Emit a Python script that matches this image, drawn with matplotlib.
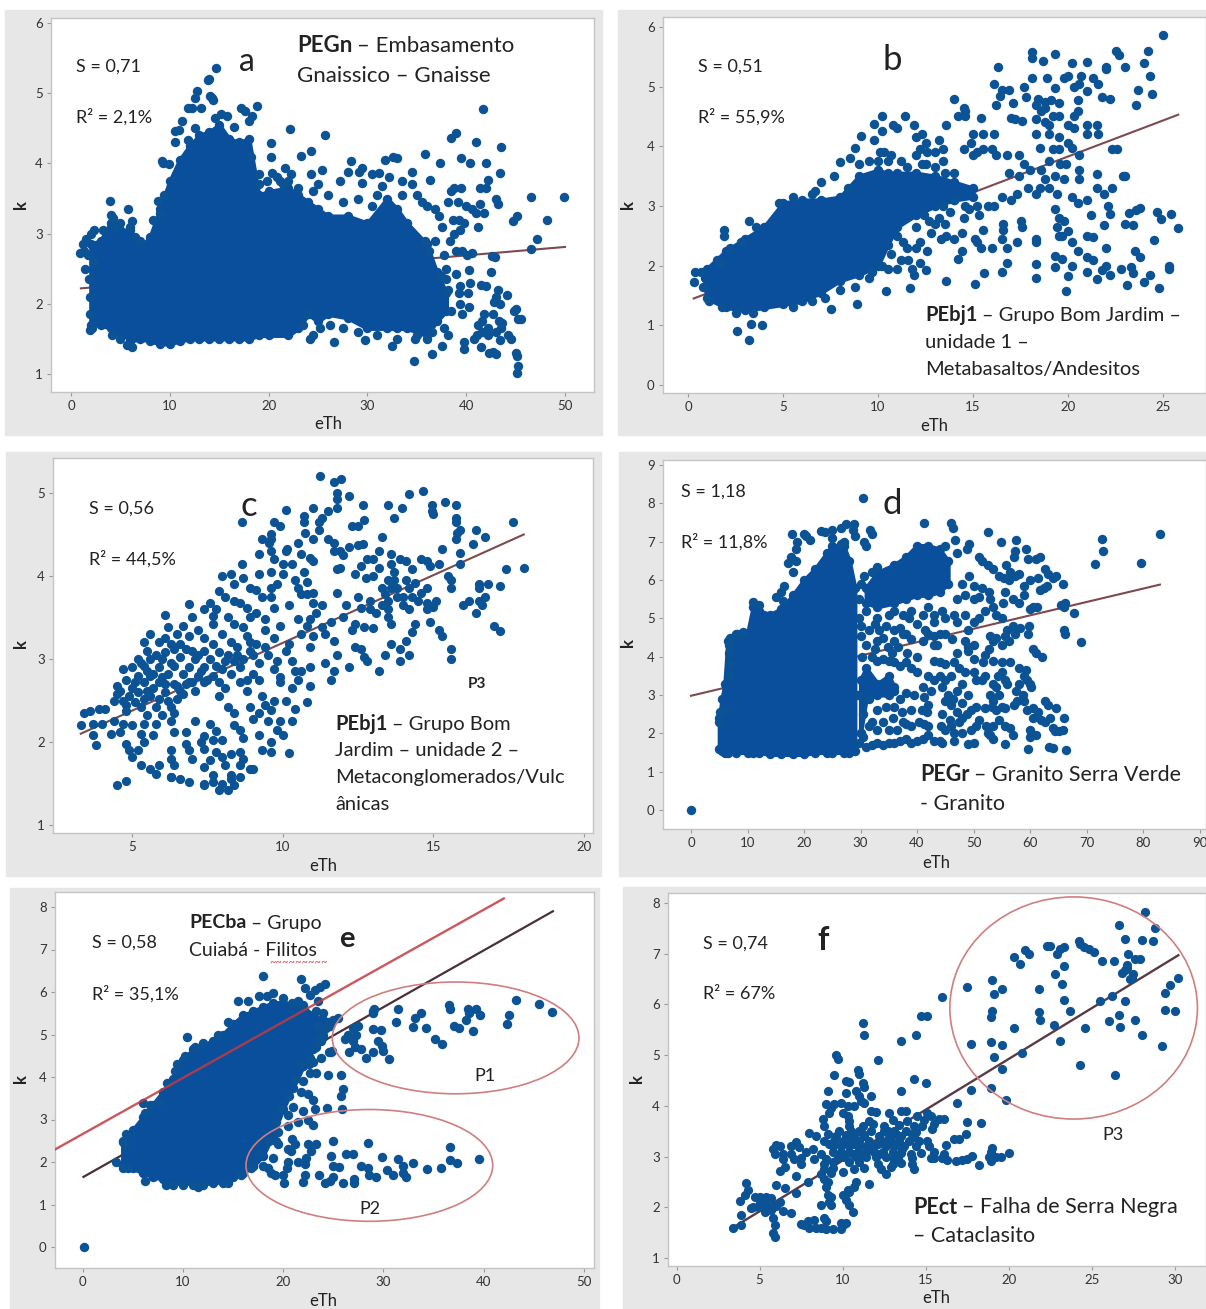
import matplotlib
matplotlib.use("Agg")
import matplotlib.pyplot as plt
from matplotlib.patches import Ellipse, Rectangle

W, H = 1206, 1309
plt.rcParams["font.family"] = ["Lato", "DejaVu Sans"]

BLUE = "#0b5394"
FILL = "#0a4f9c"
GREY = "#e7e7e7"
TXT = "#222222"
LINE = "#7d4a4e"

# regression lines (eTh, k)
a_line = ([1, 50], [2.22, 2.81])
b_line = ([0.3, 25.8], [1.45, 4.53])
c_line = ([3.3, 18.0], [2.1, 4.5])
d_line = ([0, 83], [2.98, 5.88])
e_line = ([0.1, 46.9], [1.65, 7.9])
e_red_line = ([-2.7, 42], [2.3, 8.2])
f_line = ([3.4, 30.2], [1.6, 6.97])

# dense parts: eTh, lower k, upper k
a_dense_x = [2, 3, 4, 5, 6, 7, 8, 9, 10, 11, 12, 13, 14, 15, 16, 17, 18, 19, 20, 22, 23, 24, 25, 26, 28, 30, 32, 33, 34, 36, 37, 38]
a_dense_lo = [1.7, 1.7, 1.65, 1.6, 1.47, 1.5, 1.47, 1.43, 1.43, 1.47, 1.5, 1.5, 1.5, 1.5, 1.5, 1.5, 1.5, 1.55, 1.55, 1.55, 1.65, 1.85, 1.75, 1.85, 1.8, 1.65, 1.65, 1.65, 1.65, 1.55, 1.75, 1.9]
a_dense_hi = [2.85, 2.9, 3.15, 3.05, 3.05, 2.8, 2.95, 3.35, 3.75, 4.05, 4.25, 4.4, 4.45, 4.55, 4.35, 4.3, 4.35, 3.55, 3.6, 3.65, 3.55, 3.45, 3.35, 3.25, 3.25, 3.15, 3.5, 3.35, 3.15, 2.85, 2.45, 2.15]

b_dense_x = [0.9, 1, 2, 3, 4, 5, 6, 7, 8, 9, 10, 10.5, 11, 12, 13, 14, 15]
b_dense_lo = [1.65, 1.45, 1.3, 1.25, 1.3, 1.35, 1.4, 1.55, 1.75, 1.85, 2.0, 2.35, 2.65, 2.85, 3.0, 3.1, 3.15]
b_dense_hi = [1.8, 1.95, 2.25, 2.45, 2.65, 3.05, 3.1, 3.1, 3.15, 3.5, 3.6, 3.55, 3.55, 3.55, 3.5, 3.4, 3.3]

d_dense_x = [5, 5.5, 6, 6.5, 8, 10, 11, 12, 14, 16, 18, 20, 22, 24, 25, 27, 28, 29]
d_dense_lo = [1.6, 1.55, 1.5, 1.5, 1.5, 1.5, 1.5, 1.5, 1.45, 1.45, 1.45, 1.45, 1.5, 1.5, 1.5, 1.5, 1.5, 1.55]
d_dense_hi = [2.4, 2.9, 3.3, 4.4, 4.6, 4.6, 5.3, 5.2, 5.1, 5.25, 5.6, 6.0, 6.3, 6.7, 6.9, 6.9, 6.5, 5.8]
d_arc_x = [31, 33, 36, 38, 40, 42, 44, 45.5]
d_arc_lo = [5.4, 5.3, 5.4, 5.5, 5.6, 5.6, 5.7, 5.9]
d_arc_hi = [5.8, 6.2, 6.4, 6.6, 6.9, 6.9, 6.8, 6.5]
d_mid_x = [30, 31, 33, 35, 36]
d_mid_lo = [2.0, 2.9, 3.0, 3.0, 3.1]
d_mid_hi = [3.4, 3.7, 3.3, 3.5, 3.2]

e_dense_x = [4, 5, 6, 7, 8, 9, 10, 11, 12, 13, 14, 15, 16, 17, 18, 19, 20, 21, 22, 23, 24]
e_dense_lo = [1.9, 1.85, 1.75, 1.65, 1.6, 1.5, 1.5, 1.5, 1.5, 1.5, 1.55, 1.65, 1.75, 1.9, 2.15, 2.65, 3.25, 3.75, 4.25, 4.65, 4.95]
e_dense_hi = [2.5, 2.75, 3.05, 3.35, 3.65, 3.95, 4.4, 4.65, 4.75, 4.85, 5.0, 5.25, 5.45, 5.55, 5.65, 5.75, 5.75, 5.7, 5.65, 5.45, 5.35]

# single points (eTh, k)
a_pts = [(14.7,5.36),(13.9,5.19),(14.0,5.2),(12.8,5.03),(12.6,4.93),(14.1,4.96),(14.3,4.93),(14.4,4.9),(13.2,4.79),(12.2,4.79),(11.8,4.79),(11.2,4.6),
 (10.5,4.46),(10.9,4.47),(10.5,4.31),(14.6,4.64),(15.2,4.7),(15.8,4.68),(17.2,4.79),(17.6,4.75),(18.8,4.82),(18.3,4.67),(18,4.6),(16.5,4.52),(12.6,4.5),
 (11.8,4.33),(9.2,4.04),(9.3,4.0),(9.9,3.99),(22.2,4.49),(25.7,4.4),(20.2,4.29),(20.2,4.09),(18.2,4.09),(23.3,4.1),(24.3,4.18),(21.7,3.93),(25.4,3.9),
 (28.3,4.04),(29.5,3.93),(29.2,3.88),(31.8,4.05),(32.6,4.09),(33,4.08),(34.5,3.88),(35.8,4.14),(37.3,4.01),(36.3,3.77),(39.0,4.43),(38.5,4.36),(41.7,4.77),
 (41,4.3),(39.5,4.08),(40.4,4.01),(42,4.0),(43.5,4.23),(43.4,3.86),(42.2,3.77),(46.6,3.52),(49.9,3.52),(48.2,3.2),(45.1,3.25),(44.7,3.18),(47.2,2.92),(46.6,2.78),
 (43,3.5),(43.2,3.42),(41.4,3.65),(42,3.65),(41.4,3.42),(41.8,3.3),(41,3.3),(40.6,3.35),(40,3.4),(39.2,3.45),(38.8,3.65),(38.5,3.6),(39.5,3.65),(38.2,3.45),
 (38.7,3.2),(39.3,3.2),(39.8,3.15),(41.2,3.1),(38.8,3.0),(39.4,3.05),(38.4,2.9),(39,2.75),(39.6,2.75),(40.1,2.7),(40.6,2.72),(42.6,2.68),(42.9,2.66),(42.5,2.45),
 (40.3,2.48),(39,2.42),(39.4,2.25),(40.4,2.3),(41.5,2.27),(42,2.25),(39.3,2.15),(40.2,2.15),(38.2,2.2),(43.2,2.2),(44.1,2.12),(43,2.1),(42.8,2.02),(43.4,2.0),
 (39.4,2.0),(40.3,1.95),(38.5,1.9),(39.6,1.85),(41.8,1.85),(42.7,1.85),(43.3,1.75),(41.2,1.7),(41.6,1.75),(42.2,1.65),(43.6,1.72),(44.8,1.9),(45,1.92),(45.2,1.78),
 (45.5,1.78),(43,1.6),(43.5,1.65),(41.1,1.55),(41.6,1.6),(42.2,1.55),(40.8,1.5),(44.2,1.55),(44.5,1.5),(43.4,1.48),(39.8,1.45),(41.5,1.38),(42.3,1.3),(42.7,1.32),
 (43,1.28),(39.8,1.35),(45,1.3),(45.1,1.25),(45.2,1.12),(45.1,1.01),(34.7,1.18),(36.5,1.28),(38.2,1.55),(37.5,1.4),(36,1.5),(34.8,1.5),(32.5,1.4),(26.6,1.45),(29.8,1.48),
 (24.2,1.5),(24.5,1.55),(6.2,1.38),(5.7,1.42),(4.2,1.55),(5,1.5),(1.9,1.62),(2.1,1.65),(1.3,2.75),(0.9,2.72),(1.2,2.85),(1.5,2.92),(2.0,3.0),(2.3,3.05),(3.2,3.05),
 (3.9,3.47),(4.0,3.27),(4.3,3.22),(5.8,3.35),(6.2,3.18),(6.0,3.1),(5.0,3.15),(4.6,3.1),(6.5,2.95),(7,2.9),(8.8,3.47),(9.4,3.55),(9,3.3),(8.3,3.2),(19,3.85),(20.3,3.87),
 (21.2,3.75),(21.5,3.7),(22.3,3.85),(23,3.65),(24.3,3.85),(25,3.7),(26,3.55),(27.2,3.75),(28,3.88),(29.5,3.72),(30.5,3.85),(31.2,3.87),(31.5,3.68),(32.2,3.8),
 (33.5,3.75),(34.5,3.7),(35,3.55),(35.5,3.45),(36,3.4),(36.8,3.35),(37.2,3.25),(37.6,3.1),(36.8,2.9),(37.8,2.7),(38,2.5),(35.8,2.9),(36.2,2.75),(37.4,2.4),(38,2.35),
 (1.4,2.5),(1.8,2.35),(1.9,2.1),(1.9,1.85),(2.3,2.6),(1.7,2.7),(24.5,3.6),(27.5,3.45),(29,3.5),(30.5,3.4),(31,3.55),(33.5,3.55),(19,3.7),(19.8,3.75),(20.8,3.8),(22,3.75),
 (24,1.85),(23.5,1.7),(25.2,1.65),(26.2,1.7),(27.5,1.65),(29,1.6),(31,1.55),(33,1.5),(35,1.55),(36.5,1.6),(37.8,1.65)]

b_pts = [(25,5.87),(22.5,5.6),(22.7,5.53),(24.2,5.6),(24,5.4),(24.3,5.18),(23,5.33),(22,5.3),(22,5.33),(21,5.42),(20.2,5.4),(19.3,5.55),(18.1,5.58),(18.1,5.48),
 (18.7,5.43),(16.3,5.33),(16.1,5.05),(16.5,4.95),(16.9,4.95),(17.7,5.0),(18.1,5.15),(18.9,5.15),(19.3,4.97),(19.8,5.15),(20,5.18),(20.3,5.0),(20.6,5.05),(20.7,5.18),
 (21.3,5.15),(21.6,5.05),(21,4.93),(23.7,4.95),(24.4,4.88),(23.6,4.7),(21.8,4.82),(22.2,4.8),(20.5,4.77),(17.8,4.82),(18.4,4.8),(18.3,4.7),(18.8,4.75),(19.1,4.78),
 (19.5,4.72),(18.8,4.65),(18.6,4.6),(20.5,4.6),(16.2,4.7),(16.4,4.85),(14.0,4.8),(14.5,4.65),(14.6,4.6),(14.2,4.5),(14.6,4.5),(15.4,4.47),(17.1,4.72),(17.0,4.47),
 (17.2,4.45),(17.6,4.43),(18.3,4.45),(18.8,4.4),(19.2,4.5),(19.5,4.5),(20.3,4.5),(20,4.35),(21.0,4.35),(21.5,4.35),(21.0,4.2),(20.3,4.3),(21.6,4.2),(19,4.35),(18.3,4.2),
 (19.0,4.2),(19.5,4.15),(20,4.05),(20.2,3.98),(18.5,3.97),(19.2,3.95),(19.5,3.95),(22.3,3.95),(22.6,3.95),(20.6,3.85),(19.0,3.75),(19.6,3.7),(19.9,3.7),(20.6,3.6),(20.6,3.45),
 (21.5,3.53),(22.9,3.5),(23,3.5),(19.3,3.5),(19.8,3.45),(18.8,3.45),(18.5,3.3),(19,3.3),(19.4,3.2),(18.3,3.2),(17.9,3.3),(21.5,3.3),(22.3,3.3),(21.9,3.2),(20.2,3.15),(20.5,3.05),
 (22.1,3.0),(21,3.1),(21.2,2.85),(22.2,2.87),(23.2,2.88),(23.6,2.93),(23.8,2.96),(24.7,2.9),(25.4,2.87),(24.9,2.78),(25.8,2.63),(23,2.7),(23.4,2.68),(21.9,2.68),(19.3,2.95),
 (19.5,2.8),(19.4,2.65),(19.8,2.75),(19.5,2.5),(20,2.58),(20.2,2.4),(21,2.5),(21.3,2.48),(19.7,2.5),(24.5,2.43),(22,2.3),(23.5,2.25),(23.8,2.15),(20.5,2.25),(21,2.15),(21.3,2.1),
 (19.3,2.17),(19.7,2.12),(19.3,1.97),(20.2,2.0),(18.3,2.02),(22,2.0),(21.8,1.93),(22.8,1.95),(23.3,1.98),(23.4,1.87),(24.3,1.85),(25.3,2.0),(25.3,1.95),(21,1.9),(21.5,1.78),(22.2,1.85),
 (20,1.82),(18.3,1.8),(23.1,1.67),(24,1.72),(24.8,1.63),(19.9,1.58),(16.5,1.9),(15.6,1.88),(15.1,1.7),(13.6,1.75),(11.7,1.63),(10.4,1.57),(8.9,1.35),(7.5,1.27),(3.9,1.0),(3.3,1.02),
 (2.6,0.9),(3.2,0.76),(18.3,2.4),(18.3,2.45),(17.5,2.75),(17.6,2.65),(16.6,2.6),(16.6,2.7),(16.5,2.45),(16.8,2.3),(16.8,2.05),(17.3,2.4),(16,2.3),(15.1,2.45),(15.2,2.4),(15.4,2.3),
 (14.4,2.25),(14.2,2.12),(14,2.45),(13.3,2.45),(13.6,2.5),(12.6,2.25),(12,2.3),(11.5,2.3),(12.2,2.05),(11.6,2.1),(11.2,2.1),(11.8,1.95),(12.5,1.92),(11.9,1.85),(13,2.7),(13.5,2.7),
 (14.4,2.55),(15.3,2.85),(15.5,2.6),(14.8,2.95),(15.2,3.0),(15.8,3.0),(16.1,3.0),(16.5,3.15),(17,3.1),(17.3,3.2),(14,3.1),(13.4,3.0),(13.8,2.9),(12.4,2.85),(12,2.65),(12.2,2.4),
 (15,4.2),(15.5,4.2),(15.5,3.95),(15.2,3.9),(16,3.95),(16.2,3.85),(15,3.85),(14.5,3.95),(16.1,4.2),(16.8,3.85),(17.4,3.85),(17.7,3.7),(16.9,3.55),(17.4,3.5),(18,3.6),(18.6,3.6),
 (13.6,4.35),(14.9,4.05),(13.2,4.1),(13.4,3.95),(12.5,4.05),(12.0,4.15),(12.3,4.2),(11.9,4.35),(11.4,4.5),(10.2,4.5),(9.8,4.38),(10.8,4.35),(11,4.3),(10.2,4.25),(9.1,4.18),(8.8,3.97),
 (9.8,4.1),(10.1,3.9),(10.3,3.9),(10.7,3.85),(10,3.75),(8,3.73),(8.5,3.8),(9,3.7),(7.7,3.5),(7,3.4),(8.4,3.3),(6.5,3.2),(6.7,3.25),(5.5,3.15),(4.8,3.05),(12,3.85),(12.2,3.95),(12.6,3.9),
 (13,3.9),(13.4,3.75),(11.2,3.75),(12.3,3.7),(13.5,3.55),(14,3.55),(3.2,2.75),(3.6,2.65),(2.8,2.4),(2.2,2.3),(1.9,2.6),(1.9,2.5),(1.5,2.1),(1.7,2.05),(0.35,1.9),(0.3,1.72),(0.7,1.9),
 (11.5,3.65),(12.5,3.7),(13,3.65),(9.5,3.75),(10.5,3.75),(11,2.5),(10.7,2.2),(10.2,2.0),(9.5,1.8),(8.8,1.65),(8,1.6),(7.2,1.45),(6.5,1.4),(5.5,1.3),(11.3,2.4),(12.8,2.55),(13.2,2.8),
 (12.7,2.75),(14.5,2.8),(14.6,3.0),(9.7,1.9),(10.5,1.95),(11,1.95),(0.8,1.65),(1.1,1.4),(1.8,1.3),(2.5,1.2),(3.4,1.2)]

c_pts = [(11.25,5.2),(11.7,5.13),(11.95,5.17),(11.8,5.0),(11.8,4.93),(12.2,4.96),(14.2,4.99),(14.65,5.03),(15.4,4.89),(11.8,4.82),(13.5,4.85),(12.65,4.85),(15.75,4.85),(14.95,4.85),
 (14.95,4.78),(15,4.75),(10.1,4.8),(11,4.82),(11.5,4.78),(11.3,4.7),(11.2,4.65),(8.65,4.65),(9.7,4.65),(9.9,4.6),(10.7,4.72),(10.7,4.65),(13.95,4.82),(13.7,4.7),(12.3,4.6),(12.5,4.6),
 (12.7,4.67),(15.75,4.7),(15.75,4.65),(17.65,4.65),(11.2,4.55),(10.75,4.52),(11.5,4.45),(11.7,4.4),(9.6,4.45),(9.3,4.45),(9.6,4.5),(9.55,4.4),(10.5,4.4),(11,4.45),(13.3,4.47),(15.8,4.52),
 (15.9,4.55),(15.75,4.45),(16.4,4.55),(16.7,4.47),(16.3,4.38),(12.2,4.35),(12.5,4.37),(12.65,4.38),(10.1,4.3),(10.15,4.33),(9.2,4.27),(9.6,4.3),(10.6,4.27),(10.9,4.22),(11.7,4.3),(12,4.25),
 (11.9,4.3),(13.2,4.3),(13.6,4.27),(15.3,4.33),(15.9,4.28),(8.65,4.15),(9.7,4.2),(10,4.15),(10.3,4.15),(10.7,4.05),(11.0,4.18),(11.8,4.08),(11.9,4.1),(12.8,4.2),(13,4.2),(12.6,4.12),
 (13.2,4.1),(13.6,4.15),(13.9,4.2),(14.1,4.18),(14.6,4.2),(14.8,4.18),(14.9,4.12),(15.2,4.15),(15.9,4.15),(17.4,4.08),(18,4.1),(14.3,4.08),(8.0,4.0),(8.3,4.03),(8.7,3.97),(9.2,4.02),
 (9.6,4.05),(10,4.02),(10.4,3.95),(10.8,3.93),(12.4,4.03),(12.75,3.98),(13,4),(13.5,3.95),(13.7,4.05),(14.1,3.95),(14.4,3.92),(15.5,4.0),(15.6,3.95),(16.5,3.9),(16.8,3.9),(17.2,3.88),
 (8.4,3.9),(8.9,3.85),(9.1,3.83),(9.6,3.85),(9.8,3.9),(10.5,3.85),(13.3,3.85),(13.6,3.85),(13.8,3.85),(14.2,3.85),(14.8,3.85),(15.6,3.85),(16.5,3.85),(7.9,3.82),(8.1,3.75),(8.4,3.7),
 (8.6,3.68),(9.3,3.75),(9.6,3.75),(10.6,3.78),(10.8,3.78),(11.0,3.8),(11.8,3.8),(12.5,3.75),(12.9,3.7),(13.5,3.7),(13.8,3.75),(14,3.75),(14.5,3.7),(14.8,3.68),(15.1,3.7),(16,3.65),(16.2,3.7),
 (16.5,3.7),(16.7,3.75),(7.6,3.68),(7.8,3.6),(8.8,3.62),(9.1,3.55),(9.7,3.62),(10.2,3.65),(11,3.68),(11.3,3.65),(12.1,3.65),(12.6,3.62),(12.9,3.6),(13.1,3.55),(13.5,3.6),(14.2,3.6),(14.8,3.6),
 (15,3.63),(16.4,3.55),(16.6,3.65),(6.9,3.66),(7.4,3.6),(6.1,3.53),(7,3.5),(7.7,3.52),(8.2,3.5),(8.9,3.5),(9.4,3.48),(10.5,3.48),(10.9,3.48),(11.1,3.55),(11.6,3.45),(12,3.5),(12.4,3.42),
 (13.5,3.5),(13.6,3.42),(14.4,3.42),(14.9,3.45),(15.2,3.35),(17,3.4),(17.2,3.34),(6.2,3.38),(6.7,3.4),(7.2,3.35),(7.7,3.42),(8.4,3.42),(8.7,3.38),(9.4,3.35),(9.9,3.4),(10.8,3.4),(11.3,3.38),
 (12.3,3.35),(12.7,3.38),(13,3.37),(14.3,3.32),(15.3,3.28),(5.6,3.3),(6.1,3.25),(6.5,3.3),(6.9,3.28),(7.4,3.25),(8.0,3.3),(8.8,3.28),(9.7,3.25),(10.6,3.3),(11,3.28),(11.4,3.3),(11.7,3.22),
 (14.1,3.22),(5.4,3.2),(5.9,3.2),(6.6,3.18),(7.7,3.18),(8.3,3.2),(9.1,3.18),(9.4,3.15),(10.2,3.18),(10.9,3.15),(11.8,3.05),(12.4,3.15),(12.6,3.12),(13.6,3.18),(15.6,3.12),(5.5,3.1),(6.1,3.08),
 (6.4,3.12),(7,3.1),(7.4,3.1),(7.9,3.08),(8.5,3.05),(8.9,3.1),(9.5,3.05),(10.1,3.1),(12.7,3.03),(13.4,3.05),(13.9,3.12),(14.2,3.05),(15.6,3.0),(5.2,3.0),(5.6,3.0),(6.0,3.0),(6.6,3.02),
 (7.1,3.0),(7.6,3.0),(8.1,2.98),(8.7,3.0),(9.2,2.95),(9.8,2.98),(10.3,2.98),(11.4,2.95),(12.8,2.98),(13.9,2.98),(5.0,2.9),(5.4,2.92),(5.9,2.9),(6.4,2.92),(6.9,2.9),(7.4,2.9),(8,2.88),(8.6,2.9),
 (9.7,2.88),(10.4,2.85),(10.9,2.9),(4.7,2.88),(5.2,2.8),(5.7,2.82),(6.2,2.82),(6.7,2.82),(7.2,2.8),(7.7,2.8),(8.3,2.82),(9,2.82),(9.9,2.78),(10.6,2.85),(11.7,2.85),(12.2,2.9),(13.2,2.85),
 (4.8,2.75),(5.4,2.72),(5.9,2.72),(6.4,2.7),(6.9,2.72),(7.4,2.72),(8.6,2.72),(9.2,2.75),(9.9,2.72),(10.5,2.75),(10.9,2.67),(11.6,2.75),(4.5,2.68),(5.0,2.65),(5.5,2.62),(6.1,2.6),(6.6,2.62),
 (7.1,2.62),(8.1,2.65),(8.8,2.62),(10.3,2.65),(4.5,2.58),(4.9,2.55),(5.4,2.52),(5.9,2.52),(6.5,2.52),(7.9,2.55),(9.3,2.55),(9.7,2.5),(10.1,2.5),(10.8,2.48),(4.4,2.5),(4.8,2.45),(5.3,2.42),
 (5.8,2.42),(6.3,2.42),(8.2,2.42),(8.9,2.42),(9.4,2.45),(10.4,2.4),(4.8,2.37),(5.5,2.32),(6.0,2.32),(6.4,2.35),(8.4,2.35),(9.2,2.35),(9.6,2.38),(3.4,2.35),(3.6,2.37),(3.9,2.4),(4.1,2.4),
 (5.4,2.22),(5.8,2.22),(6.3,2.25),(7.1,2.25),(7.6,2.22),(8.4,2.2),(9.0,2.28),(9.5,2.25),(9.9,2.25),(10.3,2.25),(3.3,2.2),(3.7,2.22),(4.0,2.22),(4.4,2.25),(4.7,2.22),(5.0,2.2),(6.4,2.12),(6.8,2.12),
 (7.8,2.13),(8.6,2.15),(9.8,2.15),(10.0,2.08),(4.3,2.1),(4.6,2.12),(5.3,2.1),(5.7,2.08),(7.4,2.07),(7.7,2.02),(8.7,2.05),(9.2,2.08),(9.6,2.0),(3.7,2.08),(4.8,1.98),(5.4,2.0),(6.8,1.98),
 (7.3,2.0),(8.0,2.03),(3.8,1.96),(4.9,1.9),(5.2,1.9),(6.3,1.9),(6.9,1.9),(7.4,1.92),(7.8,1.88),(8.3,1.85),(8.6,1.88),(9.3,1.9),(9.6,1.88),(10.2,1.87),(5.0,1.82),(6.3,1.8),(7,1.8),(7.6,1.78),
 (8.0,1.82),(8.7,1.8),(5.3,1.72),(5.6,1.68),(5.9,1.72),(6.4,1.72),(7.4,1.7),(8.1,1.72),(8.6,1.72),(8.9,1.68),(9.0,1.67),(5.8,1.62),(6.3,1.58),(7.7,1.6),(8.3,1.6),(8.6,1.58),(4.5,1.48),(4.8,1.53),
 (6.3,1.58),(6.6,1.55),(6.9,1.52),(7.4,1.5),(7.7,1.52),(8.0,1.5),(8.3,1.55),(7.4,1.48),(7.9,1.42),(8.2,1.42),(8.4,1.48),
 (4.6,2.62),(5.1,2.72),(5.6,2.8),(5.1,2.48),(5.6,2.55),(6.1,2.7),(6.3,2.95),(6.8,2.7),(7.3,2.85),(7.8,2.92),(8.2,3.05),(8.5,3.15),(8.9,3.2),(9.0,3.05),(13.4,3.78),(13.7,3.95),(14,3.65),(14.3,3.75),(14.6,3.8),(13.3,3.65),
 (5.3,2.95),(5.8,3.05),(6.3,3.18),(6.8,3.12),(7.2,3.05),(5.7,2.65),(6.2,2.5),(6.7,2.58),(7.0,2.72),(7.5,2.75),(4.7,2.5),(5.2,2.6),(5.5,2.85),(6.0,2.78),(6.5,2.68),(8.4,2.98),(8.8,2.75),(7.9,2.72)]

d_pts = [(30.5,8.15),(83,7.2),(72.7,7.08),(73,6.75),(71.5,6.42),(79.7,6.45),(41.2,7.5),(46,7.5),(46.3,7.35),(52.5,7.25),(54.8,7.0),(57.6,7.05),(59.3,6.8),(46.8,7.05),(49.2,6.95),(48.9,6.8),
 (45,6.9),(47,6.7),(51,6.6),(51.5,6.5),(52.5,6.4),(53.5,6.3),(55.8,6.4),(56.5,6.2),(57.3,6.1),(58,6.15),(56.3,6.0),(55.4,6.05),(54.5,6.1),(57.3,6.75),(57.2,6.6),(59.7,6.55),(61,6.55),(61.8,6.6),
 (62.7,6.3),(63.2,6.15),(64,6.05),(64.6,6.1),(65.8,5.9),(63,5.85),(61.5,6.05),(60,6.0),(59,5.85),(61.7,5.75),(62.5,5.8),(66.2,5.4),(66,5.3),(65.5,5.35),(67.8,5.15),(60.5,5.3),(61.2,5.3),(60,5.25),
 (66,4.7),(66.2,4.6),(69,4.38),(62.2,4.0),(60.6,4.2),(61,4.1),(59.8,4.8),(59.6,4.6),(58.2,4.75),(57,4.8),(56,4.7),(55.5,4.55),(57.4,4.6),(56.3,4.4),(55,4.3),(53,4.55),(53.5,4.4),(52.7,4.2),(52,4.05),
 (54,4.5),(50,4.3),(49,4.25),(48.5,4.4),(49,4.15),(46.2,4.45),(44,3.85),(43,3.9),(45,3.8),(46.5,3.85),(50,3.95),(51.6,3.85),(53.5,3.9),(55,3.85),(56.5,3.85),(58,3.7),(59.3,3.65),(59.5,3.4),(59,3.5),
 (60,3.3),(60.2,3.2),(58,3.3),(57.5,3.1),(58.7,3.0),(57.7,2.85),(57.2,2.75),(59,2.85),(59.5,2.6),(60.5,2.65),(61.5,2.55),(62.7,2.85),(63.2,2.75),(64.6,2.65),(60.5,2.4),(62,2.35),(62.6,2.3),(63.5,2.4),
 (66,2.4),(64,2.15),(64.5,2.05),(65.2,2.05),(65.8,2.1),(60,2.1),(60,1.9),(61,1.95),(59.7,1.6),(63.3,1.65),(64,1.62),(66.3,1.57),(55.6,1.72),(53.5,1.85),(53,1.95),(52.5,2.0),(50,1.75),(49,1.72),(48,2.0),
 (46.5,1.8),(43,1.8),(41,1.85),(48,2.8),(48.8,2.5),(49.5,2.6),(50.5,2.7),(51,2.35),(52,2.65),(53.3,2.7),(54,2.6),(54.5,2.35),(55,2.7),(55.5,2.65),(53,3.0),(53.5,3.3),(54,3.2),(54.3,3.5),(55,3.6),(55.5,3.4),
 (56,3.3),(54.5,3.0),(53.5,2.85),(52,3.5),(51.5,3.4),(50.5,3.4),(50,3.6),(49,3.0),(47,3.1),(46.4,2.9),(45.5,3.0),(44.5,3.2),(44,3.5),(45,2.85),(46,2.75),(47,2.55),(47.5,2.3),(44.5,2.5),(44.2,2.2),
 (45,2.1),(45.8,2.35),(42,2.75),(42.5,3.1),(43,3.4),(41,3.2),(41.2,2.95),(41.8,2.55),(40.8,2.6),(40.3,2.3),(41.2,2.25),(42,2.2),(39,2.2),(39,2.6),(39.5,3.0),(38,3.05),(37.3,2.55),(36,2.7),(35.8,2.4),
 (38,2.25),(40,3.6),(39,3.7),(38,3.85),(40,4.0),(38.2,4.1),(36.7,4.25),(35.5,4.1),(34.8,4.25),(33,4.4),(34,4.5),(32.5,4.2),(31.5,4.7),(33.3,4.7),(36,4.7),(37,4.75),(38,4.6),(39,4.45),(41,4.4),(42,4.6),(43,4.55),
 (44,4.6),(43.5,4.3),(45,5.0),(46.5,5.1),(47,4.9),(48.5,5.1),(49,4.7),(50,4.9),(51,5.0),(52,5.2),(53.5,5.3),(54,5.1),(55,5.0),(57,5.5),(58,5.4),(59,5.6),(55.5,5.7),(55.3,5.4),(53,5.5),(51,5.55),(50,5.5),(48.5,5.6),
 (47,5.5),(49.2,6.1),(48,5.9),(50,5.85),(51.5,5.8),(52.7,5.7),(42,5.3),(43,5.1),(44.5,5.2),(41,5.1),(39,5.2),(37.5,5.1),(36,5.2),(35,5.1),(33,5.0),(31,5.2),(17.8,7.2),(18.8,7.0),(20,7.2),(20.3,7.15),(21,7.05),
 (23,7.28),(23.7,7.25),(25,7.3),(25,7.1),(26.5,7.35),(27.4,7.45),(28.9,7.45),(28.7,7.3),(29,7.15),(31.6,7.3),(32,7.2),(30.7,7.0),(31,6.9),(27,7.0),(26.5,6.95),(18.6,6.8),(17.7,6.6),(17.2,6.45),(18.5,6.5),(18,6.2),
 (16.5,5.85),(16,5.7),(15,5.55),(16.2,5.45),(11,5.42),(12,5.35),(6.9,4.5),(6.8,4.3),(8.2,4.6),(9.2,4.65),(6.8,4.1),(6.9,3.8),(6.7,3.5),(5.2,2.55),(5,2.3),(6,2.6),(33,6.35),(32,6.2),(30.7,6.1),(30,5.9),(29.8,5.5),(0,0.0),
 (30,2.0),(31,1.65),(32,1.7),(33,1.75),(34,1.7),(35,1.75),(36,1.75),(37,1.8),(38,1.85),(39,1.75),(40,1.8),(42,1.95),(44,1.8),(30.5,2.5),(32,2.3),(33,2.6),(34,2.3),(35,2.1),(36.5,2.1),(37.5,2.3),(31.5,2.9),
 (33,2.1),(34.5,2.7),(37,2.9),(31,4.3),(30,4.55),(30.3,4.0),(32,4.0),(33,3.9),(34,3.95),(35,3.9),(36,3.85),(37,3.75),(37.5,4.6),(36,4.4),(34.5,4.8),(32.5,4.85),(38.5,5.0),(40,4.85),(41.5,4.7),(43,4.9),
 (43,4.3),(45,4.6),(47,4.1),(47.5,3.7),(48.5,3.6),(46,3.5),(45,3.4),(42,3.5),(48,3.3),(48,2.4),(49.5,2.1),(50.5,2.2),(52.2,2.2),(53.5,2.2),(55.5,2.2),(56.5,2.15),(57,1.95),(46,2.2),(46.5,2.0),(44.5,1.75),
 (29.8,5.0),(30,4.8),(29.8,1.75),(30.5,1.9),(31.5,2.2),(29.6,3.0)]

e_pts = [(18,6.38),(21.8,6.3),(22.2,6.1),(24.2,6.2),(23.7,6.12),(23.2,6.05),(22.7,5.92),(19,5.98),(18.4,5.9),(17.6,5.9),(20,5.85),(15.5,5.8),(16.5,5.8),(21.5,5.8),(20.9,5.75),(22,5.7),(23.5,5.8),(23.3,5.55),
 (25,5.35),(25.5,5.38),(23.5,5.2),(24,5.0),(23.5,4.9),(24.8,4.6),(24.9,4.62),(23.8,4.45),(23,4.35),(22.6,4.3),(24.5,4.05),(25.8,4.05),(22.7,4.1),(23.3,4.1),(22,3.9),(21.8,3.65),(22.5,3.6),(25.8,3.55),(26,3.72),
 (23,3.45),(24.4,3.28),(23.2,3.25),(25.9,3.25),(22,3.2),(21,3.3),(20.5,3.1),(22.5,3.0),(23,2.88),(21.5,2.95),(20.5,2.85),(19.5,2.7),(19.3,2.5),(19.5,2.42),(20.5,2.3),(20.9,2.55),(21.2,2.42),(22.5,2.42),(23.3,2.42),
 (25,2.5),(28.5,2.45),(20.8,2.25),(22.8,2.25),(22.3,2.1),(24.8,2.15),(26.3,2.2),(27,2.2),(19,2.1),(20.5,2.0),(21.5,2.0),(22.2,1.95),(25,1.9),(25.6,1.88),(27.8,1.9),(28.5,1.85),(29.9,2.12),(31.5,2.08),(32,1.9),(33,1.98),
 (34.3,1.83),(35.7,1.85),(36.6,2.05),(37.3,1.97),(39.5,2.07),(36.6,2.36),(18,1.9),(18.5,1.85),(18.8,1.75),(19.2,1.7),(20,1.7),(20.4,1.85),(22.2,1.7),(23.6,1.7),(25,1.65),(24.7,1.55),(27.1,1.6),(27.1,1.5),(28.6,1.7),
 (29.3,1.65),(30.4,1.82),(31,1.7),(32,1.75),(32.3,1.65),(22,1.52),(24.2,1.5),(20.1,1.5),(17,1.9),(26,1.5),(29,5.5),(29,5.55),(29.1,5.6),(31.5,5.6),(31.3,5.3),(33,5.18),(33.2,5.4),(33.7,5.5),(34.2,5.15),(36.5,5.7),(36.6,5.6),
 (35.1,4.9),(35.8,4.78),(37,5.2),(37.5,5.15),(38.2,5.35),(38.4,5.6),(38.5,5.5),(39.2,5.6),(38.9,5.08),(39.6,5.45),(42.3,5.25),(42.5,5.45),(43.2,5.82),(45.5,5.72),(46.8,5.52),(26.5,5.0),(27,5.15),(27.3,5.0),(27.5,5.2),(26.2,4.9),
 (27,4.85),(26.6,4.6),(27.2,4.7),(27.8,4.65),(28.3,4.45),(29,4.6),(29.5,4.85),(29,5.12),(29.8,5.1),(29.9,4.72),(30,4.62),(30.6,4.42),(24.6,4.6),(0.1,0.0),(3.3,2.0),(4,2.48),(4.3,2.65),(4.2,2.4),(6,3.4),(6.2,3.15),(6.7,3.35),(7.6,3.42),
 (8.4,3.85),(9.2,4.15),(9.4,4.3),(10.2,4.5),(10.4,4.95),(11.2,4.7),(12,4.8),(13.5,4.98),(14.5,5.3),(6.2,1.55),(8.3,1.45),(9,1.45),(10,1.45),(11,1.45),(11.5,1.42),(12,1.45),(14,1.5),(14.5,1.5),(4,1.85),(4.5,1.85),
 (24,5.5),(24.5,5.3),(24.3,5.15),(24.7,5.2),(23.8,4.85),(23.3,4.7),(22.7,4.45),(21.8,4.3),(21.2,3.95),(20.6,3.55),(19.8,3.25),(19.3,2.95),(18.6,2.5),(17.6,2.2),(16.8,1.85),(15.8,1.7)]

f_pts = [(28.2,7.83),(26.6,7.57),(28.8,7.5),(27,7.3),(28,7.28),(28.7,7.25),(24.2,7.25),(24.3,7.2),(24.5,7.13),(24.8,7.1),(25.1,7.03),(21,7.07),(21.2,7.0),(22.3,7.15),(22.5,7.15),(23.1,7.1),(23.3,7.13),(22.9,7.0),(20.3,6.93),(20.7,6.8),
 (27.2,7.0),(27.6,6.9),(27.9,6.9),(25.6,6.85),(26.3,6.85),(27.1,6.78),(27.1,6.72),(23.3,6.75),(27,6.68),(26.8,6.62),(22.8,6.6),(27.5,6.6),(27.4,6.52),(27.3,6.5),(19,6.48),(23.2,6.4),(17.5,6.35),(19.6,6.3),(21.8,6.3),(30.2,6.52),(29.7,6.38),
 (29.4,6.22),(19.1,6.2),(16,6.15),(26.2,6.17),(23.3,6.08),(25.5,6.07),(27,6.07),(29.4,5.9),(30,5.88),(23.7,5.88),(19,5.87),(21.8,5.85),(18.9,5.75),(14.7,5.77),(15.1,5.77),(26.6,5.8),(21.9,5.7),(27.6,5.7),(26,5.67),(11.2,5.63),(22.7,5.6),
 (26.7,5.56),(20.3,5.53),(24.6,5.53),(11.3,5.4),(14.4,5.4),(28,5.4),(13.5,5.27),(18.9,5.25),(23.1,5.27),(17.7,5.22),(19.6,5.2),(29.2,5.18),(20.8,5.05),(9.6,5.0),(9.7,4.93),(19.1,4.97),(12.1,4.9),(24.3,4.8),(19.6,4.73),(10.9,4.7),(11,4.62),
 (26.4,4.6),(9.5,4.6),(14.3,4.52),(10.2,4.5),(10.4,4.48),(11.2,4.45),(11.3,4.38),(15,4.46),(18.9,4.36),(9.1,4.3),(10.2,4.25),(10.8,4.3),(11,4.2),(11.7,4.2),(13.5,4.3),(17.7,4.32),(19.8,4.12),(9,4.03),(9.5,4.03),(10.3,4.0),(10.7,4.0),
 (11.1,4.1),(11.3,4.05),(16.9,4.05),(9.9,4.05),(9.3,3.95),(11.7,3.9),(12,3.88),(12.8,3.85),(13.5,3.9),(13.8,3.9),(14.5,3.8),(15.1,3.85),(15.3,3.8),(9.2,3.85),(10,3.85),(10.3,3.8),(8.8,3.75),(10.4,3.7),(11.6,3.7),(13,3.72),(13.9,3.7),
 (14.9,3.72),(15.8,3.75),(16.1,3.75),(17.5,3.68),(18.3,3.67),(15.5,3.65),(8.9,3.6),(10.4,3.6),(11.2,3.6),(11.8,3.65),(12.5,3.6),(13.4,3.62),(14.3,3.6),(14.8,3.6),(15.4,3.55),(8,3.47),(9.1,3.45),(9.8,3.5),(10.5,3.5),(11,3.5),(11.7,3.5),
 (12.7,3.5),(13.1,3.5),(13.8,3.5),(14.4,3.48),(17.4,3.45),(8.4,3.4),(9.6,3.4),(10.2,3.42),(10.7,3.42),(11.3,3.4),(12.2,3.4),(12.9,3.42),(13.5,3.4),(14.3,3.38),(17,3.35),(16.7,3.35),(7.2,3.28),(8.9,3.3),(9.5,3.3),(10,3.3),(10.5,3.3),
 (11,3.3),(11.6,3.3),(12.3,3.3),(12.9,3.3),(13.4,3.3),(14,3.3),(14.6,3.3),(15.1,3.3),(6,3.22),(6.2,3.2),(5.8,3.15),(6.9,3.2),(7.4,3.18),(8.2,3.15),(9.4,3.2),(9.9,3.2),(10.4,3.2),(10.9,3.2),(11.4,3.2),(11.9,3.2),(12.6,3.2),(13.1,3.2),
 (13.7,3.2),(14.4,3.2),(15.2,3.2),(16.2,3.22),(5.9,3.05),(6.4,3.05),(6.9,3.05),(7.8,3.1),(8.7,3.05),(9.4,3.1),(9.9,3.1),(10.4,3.1),(10.9,3.1),(11.4,3.1),(11.9,3.1),(12.4,3.1),(13,3.1),(13.5,3.08),(14.1,3.05),(14.7,3.08),(15.5,3.1),
 (16.1,3.05),(18.9,3.1),(19,3.17),(6.4,2.95),(7.1,2.95),(7.5,2.98),(8.3,2.95),(9,2.95),(10.1,3.0),(10.8,3.0),(11.4,3),(12,3),(12.6,3.0),(13.3,2.98),(14.2,2.98),(15.3,2.98),(15.5,2.98),(16,2.98),(16.3,2.93),(16.8,2.92),(17.2,2.93),
 (17.5,2.95),(17.8,3.02),(18.8,3),(19.2,3),(19.5,3),(20,3.07),(6.2,2.72),(6.5,2.8),(7.5,2.85),(8.9,2.85),(9.4,2.9),(10.4,2.9),(11,2.9),(12.1,2.85),(13,2.85),(13.5,2.88),(14.2,2.85),(18.2,2.83),(18.9,2.92),(8.9,2.75),(9.4,2.78),(10.7,2.75),
 (11.3,2.78),(12.3,2.75),(12.9,2.8),(14.3,2.75),(7.2,2.62),(8.7,2.65),(9.3,2.68),(10,2.7),(12.6,2.65),(7.9,2.5),(8.9,2.55),(9.1,2.5),(11.6,2.45),(10.8,2.5),(6,2.43),(6.5,2.38),(9,2.4),(10.3,2.35),(10.7,2.4),(4.2,2.48),(4.3,2.35),
 (4.1,2.25),(7.2,2.28),(9.1,2.25),(9.3,2.2),(10,2.25),(10.4,2.3),(3.8,2.12),(4.7,2.2),(5,2.2),(5.4,2.2),(5.7,2.18),(6.2,2.1),(9.2,2.1),(10.2,2.15),(10.4,2.05),(4.6,2.0),(5,2.08),(5.4,2.05),(5.8,2.0),(6,2.02),(8.7,2.05),(9.3,2.05),
 (4.5,1.98),(4.9,2.0),(5.3,1.9),(5.7,1.95),(6.4,1.92),(6.9,1.88),(10.6,1.9),(3.9,1.85),(5.8,1.78),(8.3,1.75),(8.9,1.78),(9,1.72),(9.9,1.7),(10.2,1.7),(3.4,1.6),(3.9,1.66),(5.9,1.65),(7.5,1.68),(7.9,1.72),(8.4,1.6),(8.7,1.6),(9.4,1.58),
 (9.9,1.58),(10,1.65),(7.7,1.65),(8,1.6),(9,1.58),(5.8,1.5),(5.9,1.42),
 (10.2,3.35),(10.7,3.25),(11.2,3.45),(11.7,3.15),(12.2,3.05),(12.7,3.35),(13.2,3.45),(12.5,3.5),(13.1,2.95),(11.1,3.05),(10.6,3.05),(9.7,3.0),(9.2,3.25),(14.2,3.45),(13.6,3.15),(12.1,3.25)]


def fig_xy(px, py):
    return px / W, 1 - py / H


def panel(left, right, top, bottom, x_ref, y_ref):
    # x_ref, y_ref: two (pixel, value) pairs for each axis
    ax = fig.add_axes([left / W, 1 - bottom / H, (right - left) / W, (bottom - top) / H])
    (p0, v0), (p1, v1) = x_ref
    per = (v1 - v0) / (p1 - p0)
    ax.set_xlim(v0 + (left - p0) * per, v0 + (right - p0) * per)
    (p0, v0), (p1, v1) = y_ref
    per = (v1 - v0) / (p1 - p0)
    ax.set_ylim(v0 + (bottom - p0) * per, v0 + (top - p0) * per)
    for s in ax.spines.values():
        s.set_color("#c4c4c4")
        s.set_linewidth(1.0)
    ax.tick_params(length=3, width=0.8, color="#9a9a9a", labelsize=9.5, labelcolor="#333333", pad=3)
    ax.set_facecolor("white")
    return ax


def scatter(ax, pts, size=46):
    ax.scatter([p[0] for p in pts], [p[1] for p in pts], s=size, color=BLUE, linewidths=0, zorder=3)


def dense(ax, xs, lo, hi):
    # solid mass of overlapping points, with a bumpy outline
    ax.fill_between(xs, lo, hi, color=FILL, lw=3, joinstyle="round", zorder=3)
    ax.scatter(xs + xs, lo + hi, s=46, color=FILL, linewidths=0, zorder=3)


def label(px, py, txt, size=13, **kw):
    kw.setdefault("color", TXT)
    return fig.text(*fig_xy(px, py), txt, fontsize=size, va="center", **kw)


def bold_then(px, py, head, rest, size):
    # bold unit code followed by the plain description on one line
    t = label(px, py, head, size, fontweight="bold")
    box = t.get_window_extent(fig.canvas.get_renderer())
    label(box.x1 + size * 0.3, py, rest, size)


def axis_names(xpx, ypx, kpx, kpy):
    label(xpx, ypx, "eTh", 12, ha="center")
    label(kpx, kpy, "k", 12, ha="center", rotation=90, fontweight="bold")


fig = plt.figure(figsize=(W / 100, H / 100), dpi=100, facecolor="white")

# grey frames behind each plot
for l, r, t, b in [(5, 602, 10, 435), (618, 1206, 10, 435), (6, 601, 452, 876), (619, 1206, 452, 876), (10, 599, 888, 1309), (623, 1206, 887, 1309)]:
    fig.patches.append(Rectangle((l / W, 1 - b / H), (r - l) / W, (b - t) / H, transform=fig.transFigure, color=GREY, zorder=-5))

# a
ax = panel(51, 594, 18, 392, ((71, 0), (565, 50)), ((374, 1), (23, 6)))
ax.set_xticks([0, 10, 20, 30, 40, 50])
ax.set_yticks([1, 2, 3, 4, 5, 6])
ax.plot(*a_line, color=LINE, lw=1.5, zorder=2)
dense(ax, a_dense_x, a_dense_lo, a_dense_hi)
scatter(ax, a_pts)
axis_names(328, 424, 21, 205)
label(76, 67, "S = 0,71")
label(76, 117, "R² = 2,1%")
label(247, 62, "a", 23, ha="center")
bold_then(297, 46, "PEGn", "– Embasamento", 16)
label(297, 76, "Gnaissico – Gnaisse", 16)

# b
ax = panel(663, 1206, 17, 393, ((688, 0), (1163, 25)), ((385, 0), (27, 6)))
ax.set_xticks([0, 5, 10, 15, 20, 25])
ax.set_yticks([0, 1, 2, 3, 4, 5, 6])
ax.plot(*b_line, color=LINE, lw=1.5, zorder=2)
dense(ax, b_dense_x, b_dense_lo, b_dense_hi)
scatter(ax, b_pts)
axis_names(934, 426, 628, 205)
label(698, 67, "S = 0,51")
label(698, 117, "R² = 55,9%")
label(892, 60, "b", 25, ha="center")
bold_then(925, 315, "PEbj1", "– Grupo Bom Jardim –", 14.5)
label(925, 342, "unidade 1 –", 14.5)
label(925, 369, "Metabasaltos/Andesitos", 14.5)

# c
ax = panel(53, 593, 458, 833, ((132, 5), (584, 20)), ((825, 1), (493, 5)))
ax.set_xticks([5, 10, 15, 20])
ax.set_yticks([1, 2, 3, 4, 5])
ax.plot(*c_line, color=LINE, lw=1.5, zorder=2)
scatter(ax, c_pts, 44)
axis_names(323, 866, 21, 644)
label(89, 509, "S = 0,56")
label(89, 559, "R² = 44,5%")
label(249, 506, "c", 25, ha="center")
label(477, 684, "P3", 11, ha="center", fontweight="bold")
bold_then(335, 724, "PEbj1", "– Grupo Bom", 14.5)
label(335, 751, "Jardim – unidade 2 –", 14.5)
label(335, 778, "Metaconglomerados/Vulc", 14.5)
label(335, 805, "ânicas", 14.5)

# d
ax = panel(663, 1206, 460, 829, ((691, 0), (1143, 80)), ((810, 0), (465, 9)))
ax.set_xticks([0, 10, 20, 30, 40, 50, 60, 70, 80, 90])
ax.set_yticks([0, 1, 2, 3, 4, 5, 6, 7, 8, 9])
ax.plot(*d_line, color=LINE, lw=1.5, zorder=2)
dense(ax, d_dense_x, d_dense_lo, d_dense_hi)
dense(ax, d_arc_x, d_arc_lo, d_arc_hi)
dense(ax, d_mid_x, d_mid_lo, d_mid_hi)
scatter(ax, d_pts)
axis_names(936, 863, 628, 643)
label(681, 492, "S = 1,18")
label(681, 542, "R² = 11,8%")
label(892, 504, "d", 25, ha="center")
bold_then(920, 775, "PEGr", "– Granito Serra Verde", 15.5)
label(920, 804, "- Granito", 15.5)

# e
ax = panel(55, 594, 892, 1268, ((82.5, 0), (584, 50)), ((1247, 0), (907, 8)))
ax.set_xticks([0, 10, 20, 30, 40, 50])
ax.set_yticks([0, 1, 2, 3, 4, 5, 6, 7, 8])
ax.plot(*e_line, color="#4a3038", lw=1.6, zorder=2)
dense(ax, e_dense_x, e_dense_lo, e_dense_hi)
scatter(ax, e_pts)
ax.plot(*e_red_line, color="#c23a3f", lw=1.7, alpha=0.85, zorder=4)
ax.add_patch(Ellipse((37.2, 4.92), 24.6, 2.63, fill=False, ec="#cf7f80", lw=1.2, zorder=4))
ax.add_patch(Ellipse((28.6, 1.92), 24.6, 2.63, fill=False, ec="#cf7f80", lw=1.2, zorder=4))
axis_names(323, 1301, 21, 1079)
label(92, 943, "S = 0,58")
label(92, 994, "R² = 35,1%")
bold_then(189, 923, "PECba", "– Grupo", 14)
label(189, 950, "Cuiabá - Filitos", 14)
label(269, 962, "~~~~~~~~~", 8, color="#d05050")
label(347, 939, "e", 21, ha="center", fontweight="bold")
label(485, 1076, "P1", 13, ha="center")
label(370, 1209, "P2", 13, ha="center")

# f
ax = panel(668, 1206, 893, 1266, ((676.5, 0), (1175, 30)), ((1258, 1), (903, 8)))
ax.set_xticks([0, 5, 10, 15, 20, 25, 30])
ax.set_yticks([1, 2, 3, 4, 5, 6, 7, 8])
ax.plot(*f_line, color="#5a3a44", lw=1.7, zorder=2)
scatter(ax, f_pts, 44)
ax.add_patch(Ellipse((23.9, 5.93), 14.9, 4.38, fill=False, ec="#cf7f80", lw=1.2, zorder=4))
axis_names(936, 1298, 637, 1079)
label(703, 944, "S = 0,74")
label(703, 994, "R² = 67%")
label(823, 940, "f", 23, ha="center", fontweight="bold")
label(1113, 1135, "P3", 13, ha="center")
bold_then(913, 1207, "PEct", "– Falha de Serra Negra", 15.5)
label(913, 1236, "– Cataclasito", 15.5)

fig.savefig("out.png", dpi=100)
